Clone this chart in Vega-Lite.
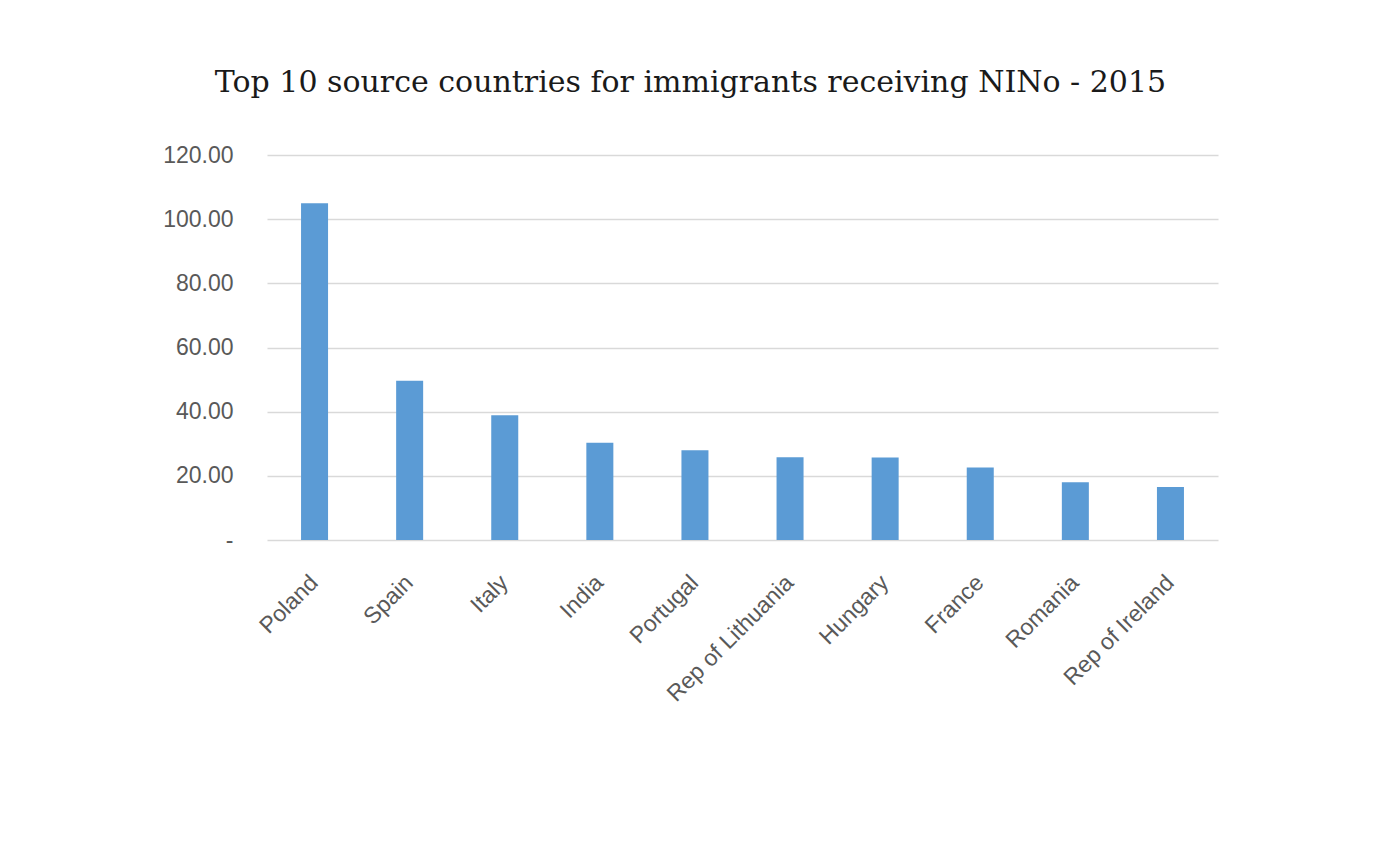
{
  "$schema": "https://vega.github.io/schema/vega-lite/v6.json",
  "autosize": {"type": "none"},
  "width": 951,
  "height": 385,
  "padding": {"left": 267, "top": 155, "right": 166, "bottom": 316},
  "background": "white",
  "title": {
    "text": "Top 10 source countries for immigrants receiving NINo - 2015",
    "font": "DejaVu Serif",
    "fontSize": 30,
    "fontWeight": "normal",
    "color": "#1a1a1a",
    "anchor": "middle",
    "frame": "group",
    "dx": -52,
    "offset": 46
  },
  "data": {
    "values": [
      {"country": "Poland", "value": 105.0},
      {"country": "Spain", "value": 49.6},
      {"country": "Italy", "value": 38.9},
      {"country": "India", "value": 30.3},
      {"country": "Portugal", "value": 28.0},
      {"country": "Rep of Lithuania", "value": 25.8},
      {"country": "Hungary", "value": 25.7},
      {"country": "France", "value": 22.6},
      {"country": "Romania", "value": 18.0},
      {"country": "Rep of Ireland", "value": 16.5}
    ]
  },
  "mark": {"type": "bar", "color": "#5B9BD5"},
  "encoding": {
    "x": {
      "field": "country",
      "type": "nominal",
      "sort": null,
      "scale": {"paddingInner": 0.716, "paddingOuter": 0.358},
      "axis": {
        "title": null,
        "domain": false,
        "ticks": false,
        "labelAngle": -45,
        "labelFont": "Liberation Sans",
        "labelFontSize": 23,
        "labelColor": "#595959",
        "labelPadding": 31,
        "labelOffset": -8
      }
    },
    "y": {
      "field": "value",
      "type": "quantitative",
      "scale": {"domain": [0, 120], "nice": false},
      "axis": {
        "title": null,
        "values": [0, 20, 40, 60, 80, 100, 120],
        "labelExpr": "datum.value == 0 ? '-' : format(datum.value, '.2f')",
        "domain": false,
        "ticks": false,
        "grid": true,
        "gridColor": "#D9D9D9",
        "gridWidth": 1.5,
        "labelFont": "Liberation Sans",
        "labelFontSize": 23,
        "labelColor": "#595959",
        "labelPadding": 34
      }
    }
  },
  "config": {"view": {"stroke": null}}
}
